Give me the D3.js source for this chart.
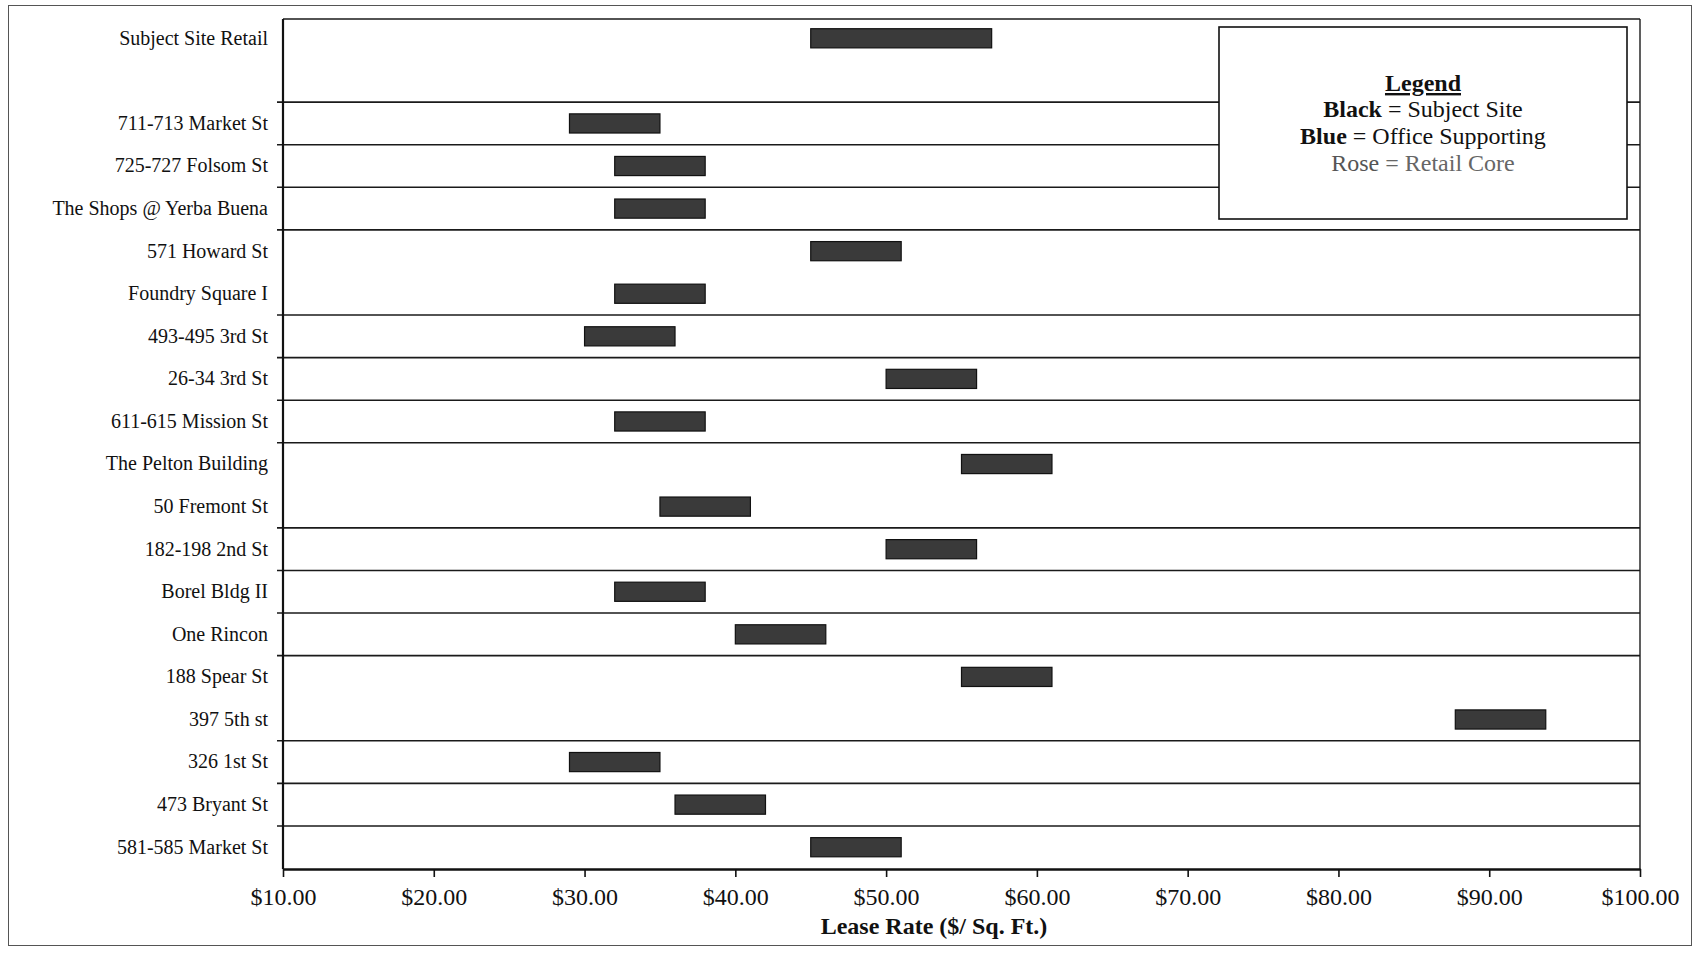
<!DOCTYPE html>
<html>
<head>
<meta charset="utf-8">
<script src="https://cdn.jsdelivr.net/npm/d3@7"></script>
<style>
  html, body { margin: 0; padding: 0; background: #fff; }
  svg { display: block; }
  text { font-family: "Liberation Serif", "Times New Roman", serif; fill: #111; }
</style>
</head>
<body>
<svg id="chart" width="1694" height="954"></svg>
<script>
// ---- data ----
const categories = [
  "Subject Site Retail", "", "711-713 Market St", "725-727 Folsom St",
  "The Shops @ Yerba Buena", "571 Howard St", "Foundry Square I",
  "493-495 3rd St", "26-34 3rd St", "611-615 Mission St",
  "The Pelton Building", "50 Fremont St", "182-198 2nd St",
  "Borel Bldg II", "One Rincon", "188 Spear St", "397 5th st",
  "326 1st St", "473 Bryant St", "581-585 Market St"
];
const lowRates  = [45, null, 29, 32, 32, 45, 32, 30, 50, 32, 55, 35, 50, 32, 40, 55, 87.75, 29, 36, 45];
const highRates = [57, null, 35, 38, 38, 51, 38, 36, 56, 38, 61, 41, 56, 38, 46, 61, 93.75, 35, 42, 51];
const xTicks = [10, 20, 30, 40, 50, 60, 70, 80, 90, 100];
const separatorAfter = [1, 2, 3, 4, 6, 7, 8, 9, 11, 12, 13, 14, 16, 17, 18];
const xTitle = "Lease Rate ($/ Sq. Ft.)";
const legendTitle = "Legend";
const legendKeys = ["Black", "Blue", "Rose"];
const legendValues = ["Subject Site", "Office Supporting", "Retail Core"];

// ---- layout ----
const svg = d3.select("#chart");
const W = 1694, H = 954;
const plot = { left: 283, right: 1640, top: 19, bottom: 869 };

svg.append("rect").attr("width", W).attr("height", H).attr("fill", "#fff");
// outer page frame
svg.append("rect").attr("x", 8.5).attr("y", 5.5).attr("width", 1683).attr("height", 940)
  .attr("fill", "none").attr("stroke", "#555").attr("stroke-width", 1);

const x = d3.scaleLinear().domain([10, 100]).range([plot.left, plot.right]);
const y = d3.scaleBand().domain(d3.range(categories.length)).range([17, 868.5]);

// separators between categories (with small outward tick)
svg.append("g").selectAll("line").data(separatorAfter).join("line")
  .attr("x1", plot.left - 6).attr("x2", plot.right)
  .attr("y1", d => y(d) + y.bandwidth()).attr("y2", d => y(d) + y.bandwidth())
  .attr("stroke", "#1a1a1a").attr("stroke-width", 1.6);

// plot frame: top & right
svg.append("line").attr("x1", plot.left).attr("x2", plot.right).attr("y1", plot.top).attr("y2", plot.top)
  .attr("stroke", "#1a1a1a").attr("stroke-width", 1.6);
svg.append("line").attr("x1", plot.right).attr("x2", plot.right).attr("y1", plot.top).attr("y2", plot.bottom)
  .attr("stroke", "#1a1a1a").attr("stroke-width", 1.4);

// bars
const rows = categories.map((c, i) => ({ i, c, lo: lowRates[i], hi: highRates[i] })).filter(d => d.lo != null);
svg.append("g").selectAll("rect").data(rows).join("rect")
  .attr("x", d => x(d.lo))
  .attr("y", d => y(d.i) + y.bandwidth() * 0.275)
  .attr("width", d => x(d.hi) - x(d.lo))
  .attr("height", y.bandwidth() * 0.45)
  .attr("fill", "#3a3a3a").attr("stroke", "#111").attr("stroke-width", 1.2);

// left axis (category labels)
const yAxis = d3.axisLeft(y).tickSize(0).tickPadding(15).tickFormat(i => categories[i]);
const gy = svg.append("g").attr("transform", `translate(${plot.left},0)`).call(yAxis);
gy.select(".domain").attr("d", `M0,${plot.top}V${plot.bottom}`).attr("stroke", "#111").attr("stroke-width", 2.2);
gy.selectAll("text").attr("font-size", 20).attr("font-family", "Liberation Serif, serif").attr("fill", "#111");

// bottom axis
const xAxis = d3.axisBottom(x).tickValues(xTicks).tickSize(8).tickSizeOuter(0).tickPadding(11)
  .tickFormat(d => "$" + d.toFixed(2));
const gx = svg.append("g").attr("transform", `translate(0,${plot.bottom})`).call(xAxis);
gx.select(".domain").attr("stroke", "#111").attr("stroke-width", 2.6);
gx.selectAll(".tick line").attr("stroke", "#111").attr("stroke-width", 1.6);
gx.selectAll("text").attr("font-size", 24).attr("font-family", "Liberation Serif, serif").attr("fill", "#111");

// x title
svg.append("text").attr("x", 934).attr("y", 934).attr("text-anchor", "middle")
  .attr("font-size", 24).attr("font-weight", "bold").text(xTitle);

// legend
const lg = svg.append("g");
lg.append("rect").attr("x", 1219).attr("y", 27).attr("width", 408).attr("height", 192)
  .attr("fill", "#fff").attr("stroke", "#111").attr("stroke-width", 1.6);
const lcx = 1423;
lg.append("text").attr("x", lcx).attr("y", 91).attr("text-anchor", "middle")
  .attr("font-size", 24).attr("font-weight", "bold").attr("text-decoration", "underline").text(legendTitle);
legendKeys.forEach((k, i) => {
  const isRose = k === "Rose";
  const t = lg.append("text").attr("x", lcx).attr("y", 117 + i * 27).attr("text-anchor", "middle")
    .attr("font-size", 24).attr("fill", isRose ? "#555" : "#111");
  t.append("tspan").attr("font-weight", isRose ? "normal" : "bold").attr("fill", isRose ? "#555" : "#111").text(k);
  t.append("tspan").attr("fill", isRose ? "#666" : "#111").text(" = " + legendValues[i]);
});
</script>
</body>
</html>
